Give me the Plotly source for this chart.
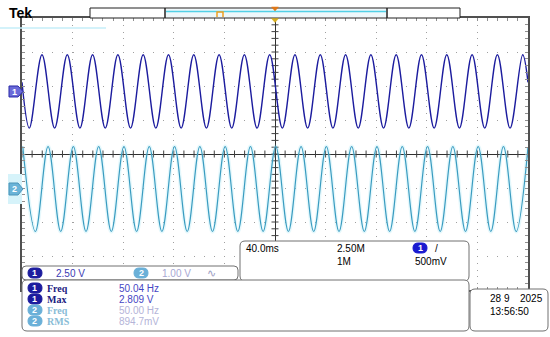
import numpy as np
import plotly.graph_objects as go

# Channel 1 (2.50 V/div): extrema times (ms) and voltages
ch1_t = [-200, -194.2, -184.2, -174.2, -164.2, -154.2, -144.2, -134.2, -124.2, -114.2,
         -104.2, -94.2, -84.2, -74.2, -64.2, -54.2, -44.2, -34.2, -24.2, -14.2,
         -4.2, 5.8, 15.8, 25.8, 35.8, 45.8, 55.8, 65.8, 75.8, 85.8,
         95.8, 105.8, 115.8, 125.8, 135.8, 145.8, 155.8, 165.8, 175.8, 185.8,
         195.8, 200]
ch1_v = [0.67, -2.7, 2.7, -2.7, 2.7, -2.7, 2.7, -2.7, 2.7, -2.7,
         2.7, -2.7, 2.7, -2.7, 2.7, -2.7, 2.7, -2.7, 2.7, -2.7,
         2.7, -2.7, 2.7, -2.7, 2.7, -2.7, 2.7, -2.7, 2.7, -2.7,
         2.7, -2.7, 2.7, -2.7, 2.7, -2.7, 2.7, -2.7, 2.7, -2.7,
         2.7, 0.67]
# Channel 2 (1.00 V/div)
ch2_t = [-199.4, -189.4, -179.4, -169.4, -159.4, -149.4, -139.4, -129.4, -119.4, -109.4,
         -99.4, -89.4, -79.4, -69.4, -59.4, -49.4, -39.4, -29.4, -19.4, -9.4,
         0.6, 10.6, 20.6, 30.6, 40.6, 50.6, 60.6, 70.6, 80.6, 90.6,
         100.6, 110.6, 120.6, 130.6, 140.6, 150.6, 160.6, 170.6, 180.6, 190.6,
         200]
ch2_v = [1.25, -1.25, 1.25, -1.25, 1.25, -1.25, 1.25, -1.25, 1.25, -1.25,
         1.25, -1.25, 1.25, -1.25, 1.25, -1.25, 1.25, -1.25, 1.25, -1.25,
         1.25, -1.25, 1.25, -1.25, 1.25, -1.25, 1.25, -1.25, 1.25, -1.25,
         1.25, -1.25, 1.25, -1.25, 1.25, -1.25, 1.25, -1.25, 1.25, -1.25,
         1.23]

scale_labels = ["2.50 V", "1.00 V"]
meas_labels = ["Freq", "Max", "Freq", "RMS"]
meas_values = ["50.04 Hz", "2.809 V", "50.00 Hz", "894.7mV"]
meas_channels = ["1", "1", "2", "2"]
timebase = ["40.0ms", "2.50M", "1M", "500mV"]
date_text = ["28 9", "2025", "13:56:50"]

# ---------------- geometry ----------------
W, H = 550, 337
def X(px): return px / W
def Y(py): return 1 - py / H

GX0, GX1, GY0, GY1 = 22, 528, 18, 290
ch1_off, ch1_vdiv = 1.84, 2.5
ch2_off, ch2_vdiv = -1.03, 1.0

C1 = "#1c1c9e"
C2 = "#3a9cc0"

fig = go.Figure()

# center-line tick marks (decoration)
tx = np.arange(-5, 5.001, 0.2)
ty = np.arange(-4, 4.001, 0.2)
fig.add_trace(go.Scatter(x=tx, y=np.zeros_like(tx), mode="markers", hoverinfo="skip",
                         marker=dict(symbol="line-ns", size=5, line=dict(color="#404040", width=1))))
fig.add_trace(go.Scatter(x=np.zeros_like(ty), y=ty, mode="markers", hoverinfo="skip",
                         marker=dict(symbol="line-ew", size=5, line=dict(color="#404040", width=1))))

# waveforms
fig.add_trace(go.Scatter(x=ch2_t, y=ch2_v, xaxis="x2", yaxis="y3", mode="lines",
                         line=dict(color="rgba(150,228,245,0.25)", width=4, shape="spline", smoothing=1.0)))
fig.add_trace(go.Scatter(x=ch2_t, y=ch2_v, xaxis="x2", yaxis="y3", mode="lines",
                         line=dict(color=C2, width=1.2, shape="spline", smoothing=1.0)))
fig.add_trace(go.Scatter(x=ch1_t, y=ch1_v, xaxis="x2", yaxis="y2", mode="lines",
                         line=dict(color=C1, width=1.4, shape="spline", smoothing=1.0)))

xdom = [X(GX0), X(GX1)]
ydom = [Y(GY1), Y(GY0)]

fig.update_layout(
    width=W, height=H, margin=dict(l=0, r=0, t=0, b=0),
    paper_bgcolor="white", plot_bgcolor="white", showlegend=False,
    xaxis=dict(domain=xdom, range=[-5, 5], dtick=1, showgrid=True, gridcolor="#a0a0a0",
               griddash="1px,5.8px", gridwidth=1, zeroline=True, zerolinecolor="#303030",
               zerolinewidth=1, showline=True, mirror="ticks", linecolor="#505050", linewidth=1.5,
               ticks="inside", ticklen=3, tickcolor="#909090", showticklabels=False,
               minor=dict(dtick=0.2, ticks="inside", ticklen=3, tickcolor="#909090", showgrid=False),
               fixedrange=True),
    yaxis=dict(domain=ydom, range=[-4, 4], dtick=1, showgrid=True, gridcolor="#a0a0a0",
               griddash="1px,9.1px", gridwidth=1, zeroline=True, zerolinecolor="#303030",
               zerolinewidth=1, showline=True, mirror="ticks", linecolor="#505050", linewidth=1.5,
               ticks="inside", ticklen=3, tickcolor="#909090", showticklabels=False,
               minor=dict(dtick=0.2, ticks="inside", ticklen=3, tickcolor="#909090", showgrid=False),
               fixedrange=True),
    xaxis2=dict(overlaying="x", range=[-200, 200], visible=False, fixedrange=True),
    yaxis2=dict(overlaying="y", range=[(-4 - ch1_off) * ch1_vdiv, (4 - ch1_off) * ch1_vdiv],
                visible=False, fixedrange=True),
    yaxis3=dict(overlaying="y", range=[(-4 - ch2_off) * ch2_vdiv, (4 - ch2_off) * ch2_vdiv],
                visible=False, fixedrange=True),
)

shapes = []
annots = []

def P(pts):
    return "M" + " L".join(f"{X(a):.5f},{Y(b):.5f}" for a, b in pts) + " Z"

def rrect(x0, y0, x1, y1, r, line="#707070", fill="white", width=1):
    p = (f"M{X(x0+r)},{Y(y0)} L{X(x1-r)},{Y(y0)} Q{X(x1)},{Y(y0)} {X(x1)},{Y(y0+r)} "
         f"L{X(x1)},{Y(y1-r)} Q{X(x1)},{Y(y1)} {X(x1-r)},{Y(y1)} L{X(x0+r)},{Y(y1)} "
         f"Q{X(x0)},{Y(y1)} {X(x0)},{Y(y1-r)} L{X(x0)},{Y(y0+r)} Q{X(x0)},{Y(y0)} {X(x0+r)},{Y(y0)} Z")
    shapes.append(dict(type="path", xref="paper", yref="paper", path=p,
                       line=dict(color=line, width=width), fillcolor=fill))

def rect(x0, y0, x1, y1, fill=None, line=None, width=1):
    shapes.append(dict(type="rect", xref="paper", yref="paper", x0=X(x0), x1=X(x1), y0=Y(y1), y1=Y(y0),
                       fillcolor=fill if fill else "rgba(0,0,0,0)",
                       line=dict(color=line if line else "rgba(0,0,0,0)", width=width)))

def seg(x0, y0, x1, y1, color, width=1):
    shapes.append(dict(type="line", xref="paper", yref="paper", x0=X(x0), x1=X(x1), y0=Y(y0), y1=Y(y1),
                       line=dict(color=color, width=width)))

def text(x, y, s, color="black", size=10, anchor="left", bold=False, family="Liberation Sans, Arial"):
    annots.append(dict(x=X(x), y=Y(y), xref="paper", yref="paper", text=f"<b>{s}</b>" if bold else s,
                       showarrow=False, xanchor=anchor, yanchor="middle",
                       font=dict(color=color, size=size, family=family)))

def badge(x, y, n, fill):
    rrect(x, y - 5, x + 14, y + 5, 5, line=fill, fill=fill)
    text(x + 7, y, n, color="white", size=9, anchor="center", bold=True)

# light cyan stray line
seg(0, 28, 106, 28, "#c4eef8", 1.5)

# top header
text(7, 13, "Tek", size=14, bold=True)
rect(90, 8, 460, 18, fill="white", line="#202020", width=1)
rect(166, 9, 386, 17, fill="#eef8fb")
seg(166, 11.5, 386, 11.5, "#52d0e6", 1.5)
seg(165, 8, 165, 18, "#202020", 1.5)
seg(387, 8, 387, 18, "#202020", 1.5)
shapes.append(dict(type="path", xref="paper", yref="paper",
                   path=f"M{X(217)},{Y(17)} L{X(217)},{Y(12)} L{X(223)},{Y(12)} L{X(223)},{Y(17)}",
                   line=dict(color="#f0a020", width=1.5)))
shapes.append(dict(type="path", xref="paper", yref="paper", path=P([(271.5, 7), (278.5, 7), (275, 11)]),
                   fillcolor="#e07818", line=dict(color="#e07818", width=0.5)))
shapes.append(dict(type="path", xref="paper", yref="paper", path=P([(271.5, 18.5), (278.5, 18.5), (275, 22.5)]),
                   fillcolor="#d8b020", line=dict(color="#d8b020", width=0.5)))

# channel ground markers
shapes.append(dict(type="path", xref="paper", yref="paper", path=P([(9, 86), (18, 86), (23, 91.5), (18, 97), (9, 97)]),
                   fillcolor="#6a6ad8", line=dict(color="#2a2aa8", width=1)))
text(14.5, 91.5, "1", color="white", size=9, anchor="center", bold=True)
rect(8, 174, 22, 204, fill="#d6f3fa")
shapes.append(dict(type="path", xref="paper", yref="paper", path=P([(9, 183), (18, 183), (23, 189), (18, 195), (9, 195)]),
                   fillcolor="#6ab4d8", line=dict(color="#4a94b8", width=1)))
text(14.5, 189, "2", color="white", size=9, anchor="center", bold=True)

# bottom readout boxes
rrect(240, 241, 469, 281, 5)
rrect(22, 266, 238, 280, 4)
rrect(22, 280, 469, 331, 5)
rrect(470, 289, 548, 331, 5)

# scale box
badge(28, 273, "1", C1)
text(54, 273, scale_labels[0], color="#3a3ab4", size=10)
badge(134, 273, "2", "#6ab0d8")
text(160, 273, scale_labels[1], color="#a8a8d4", size=10)
text(205, 273, "∿", color="#a0a0c4", size=11)

# timebase box
text(244, 248, timebase[0], size=10)
text(335, 248, timebase[1], size=10)
text(335, 261, timebase[2], size=10)
badge(413, 248, "1", "#1a1ad0")
text(433, 248, "/", size=10)
text(413, 261, timebase[3], size=10)

# measurements
rows = [288, 299, 310, 321]
for i, yy in enumerate(rows):
    if meas_channels[i] == "1":
        bcol, lcol, vcol = C1, "#202080", "#4646c4"
    else:
        bcol, lcol, vcol = "#6ab0d8", "#88bcd6", "#b4b4d8"
    badge(28, yy, meas_channels[i], bcol)
    text(45, yy, meas_labels[i], color=lcol, size=10, family="Liberation Serif, Times New Roman", bold=True)
    text(117, yy, meas_values[i], color=vcol, size=10)

# date box
text(488, 298, date_text[0], size=10)
text(545, 298, date_text[1], size=10, anchor="right")
text(488, 311, date_text[2], size=10)

fig.update_layout(shapes=shapes, annotations=annots)
fig.write_html("out.html", config={"displayModeBar": False},
               post_script="document.body.style.margin='0';document.body.style.overflow='hidden';")
